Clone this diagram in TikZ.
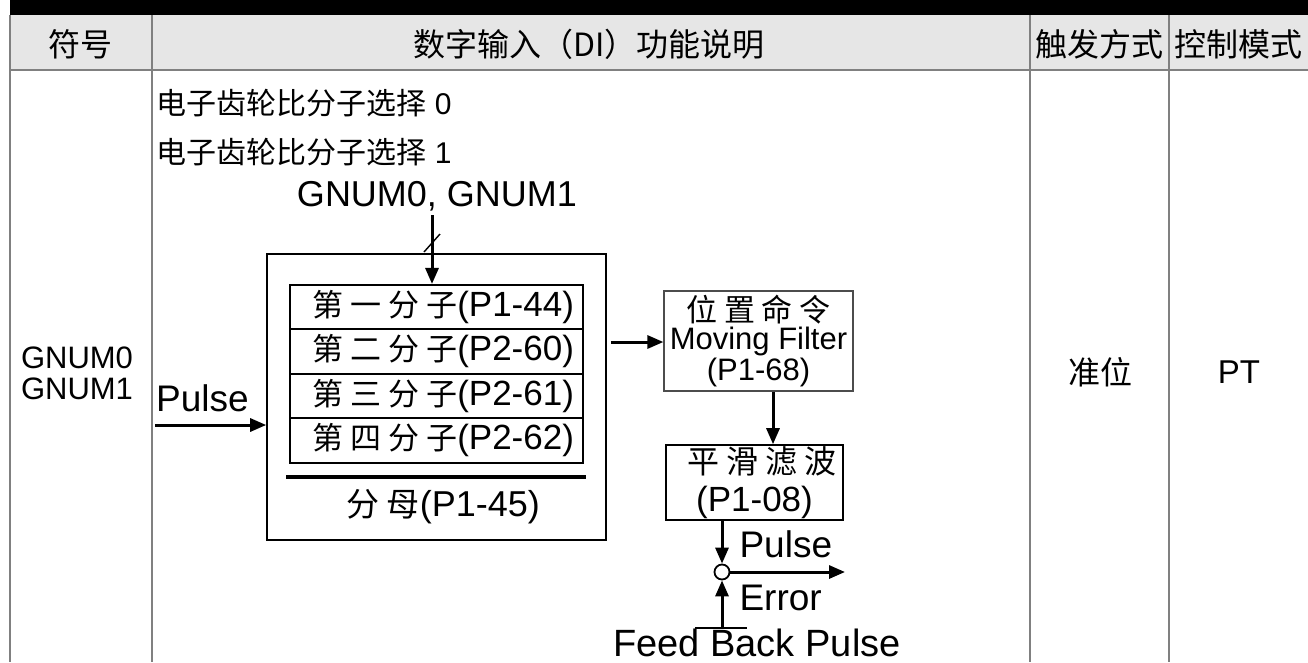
\documentclass[tikz,border=0pt]{standalone}
\usepackage{fontspec}
\setmainfont{Liberation Sans}
\newfontfamily\cjk{Noto Sans CJK SC}
\newfontfamily\cjkw[LetterSpace=22]{Noto Sans CJK SC}
\usetikzlibrary{arrows.meta}
\definecolor{tblgray}{HTML}{808080}
\definecolor{headgray}{HTML}{E6E6E6}
\newcommand{\fs}[1]{\fontsize{#1}{#1}\selectfont}

\begin{document}
\begin{tikzpicture}[x=1pt,y=-1pt,
  tbl/.style={draw=tblgray,line width=1.3pt},
  blk/.style={draw,line width=1.6pt,inner sep=0pt},
  flow/.style={line width=3pt,-{Triangle[length=16pt,width=13pt]}},
  numer/.style={blk,minimum width=293pt,minimum height=44.5pt,font=\fs{35}}]
  \useasboundingbox (0,0) rectangle (1308,662);
  % table frame
  \fill[black] (10,0) rectangle (1308,15);
  \fill[headgray] (10,15) rectangle (1308,70);
  \draw[tbl] (10,70) -- (1308,70);
  \foreach \x in {10,152,1030,1169} \draw[tbl] (\x,15) -- (\x,662);
  % header
  \node[font=\cjk\fs{32}] (hsym) at (80,44) {符号};
  \node[font=\cjk\fs{32}] (hdesc) at (589,44) {数字输入（DI）功能说明};
  \node[font=\cjk\fs{32}] (htrig) at (1099,44) {触发方式};
  \node[font=\cjk\fs{32}] (hmode) at (1238,44) {控制模式};
  % row cells
  \node[font=\fs{31}] (sym0) at (77,358) {GNUM0};
  \node[font=\fs{31}] (sym1) at (77,389) {GNUM1};
  \node[font=\cjk\fs{32}] (trig) at (1100,372) {准位};
  \node[font=\fs{33}] (mode) at (1239,372) {PT};
  \node[anchor=west,font=\fs{30}] (sel0) at (153,103) {{\cjk 电子齿轮比分子选择} 0};
  \node[anchor=west,font=\fs{30}] (sel1) at (153,152) {{\cjk 电子齿轮比分子选择} 1};
  % gear ratio block
  \node[font=\fs{36}] (gnum) at (437,196) {GNUM0, GNUM1};
  \node[blk,minimum width=339pt,minimum height=286pt] (outer) at (436.5,397) {};
  \node[numer] (num1) at (436.5,307) {{\cjkw\fs{31} 第一分子}(P1-44)};
  \node[numer] (num2) at (436.5,351.5) {{\cjkw\fs{31} 第二分子}(P2-60)};
  \node[numer] (num3) at (436.5,396) {{\cjkw\fs{31} 第三分子}(P2-61)};
  \node[numer] (num4) at (436.5,440.5) {{\cjkw\fs{31} 第四分子}(P2-62)};
  \draw[line width=3.5pt] (286,477) coordinate (barl) -- (586,477) coordinate (barr);
  \node[font=\fs{36}] (denom) at (436,507) {{\cjkw\fs{33} 分母}(P1-45)};
  % filters
  \node[blk,draw=black!70,line width=1.2pt,minimum width=189pt,minimum height=100pt,
        align=center,font=\fontsize{31}{31}\selectfont] (filter) at (758.5,341)
        {{\cjkw 位置命令}\\[-3pt]Moving Filter\\(P1-68)};
  \node[blk,minimum width=177pt,minimum height=75pt,align=center,font=\fs{35}]
        (smooth) at (754.5,482.5) {{\cjkw\fs{32} 平滑滤波}\\[3pt](P1-08)};
  \node[draw,line width=1.8pt,circle,minimum size=15pt,inner sep=0pt] (sum) at (722,572) {};
  % connectors
  \coordinate (gtop) at (432,215);
  \coordinate (slash) at (432,243);
  \draw[flow] (gtop) -- (gtop |- num1.north);
  \draw[line width=1.4pt] ([shift={(-8,9)}]slash) -- ([shift={(8,-9)}]slash);
  \coordinate (pin) at (155,425);
  \node[anchor=south west,font=\fs{37},inner sep=0pt] (pulsein) at (156,412) {Pulse};
  \draw[flow] (pin) -- (outer.west |- pin);
  \coordinate (mid) at (0,342);
  \draw[flow] ([xshift=4pt]outer.east |- mid) -- (filter.west |- mid);
  \coordinate (v1) at (773,0);
  \draw[flow] (filter.south -| v1) -- (smooth.north -| v1);
  \draw[flow] (smooth.south -| sum) -- (sum.north);
  \coordinate (errout) at (845,572);
  \draw[flow] (sum.east) -- (errout);
  \coordinate (fb) at (722,628);
  \draw[flow] (fb) -- (sum.south);
  \draw[line width=2.2pt] ([xshift=-27pt]fb) -- ([xshift=25pt]fb);
  \node[anchor=west,font=\fs{37}] (pulseout) at (736,544) {Pulse};
  \node[anchor=west,font=\fs{37}] (err) at (736,598) {Error};
  \node[font=\fs{38}] (fbpulse) at (757,643) {Feed Back Pulse};
\end{tikzpicture}
\end{document}
